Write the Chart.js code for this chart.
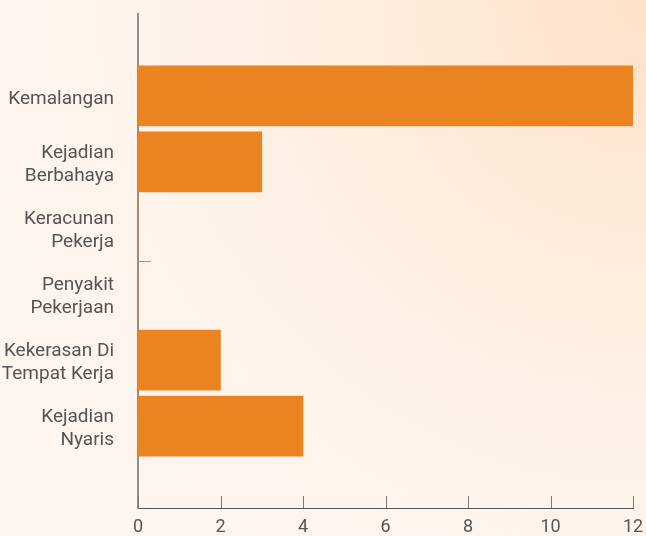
<!DOCTYPE html>
<html>
<head>
<meta charset="utf-8">
<script src="https://cdn.jsdelivr.net/npm/chart.js@4"></script>
<style>
  html, body {
    margin: 0;
    padding: 0;
    width: 646px;
    height: 536px;
    overflow: hidden;
    background: radial-gradient(circle at 100% 0%, #fee1ca 0%, #fdeedf 35%, #fef4ec 65%, #fef6f1 100%);
  }
  #wrap { position: relative; width: 646px; height: 536px; }
</style>
</head>
<body>
<div id="wrap"><canvas id="incidentChart"></canvas></div>
<script>
// Incident categories (multi-line labels) and their counts
const categories = [
  ["Kemalangan"],
  ["Kejadian", "Berbahaya"],
  ["Keracunan", "Pekerja"],
  ["Penyakit", "Pekerjaan"],
  ["Kekerasan Di", "Tempat Kerja"],
  ["Kejadian", "Nyaris"]
];
const counts = [12, 3, 0, 0, 2, 4];
const xTicks = [0, 2, 4, 6, 8, 10, 12];

const textColor = "#555";
const barColor = "#ea8420";

// Bars sit on a linear index axis so the axis can run past the first/last category
const points = counts.map((v, i) => ({ x: v, y: i }));
const yMin = -1.24;
const yMax = categories.length - 1 + 1.24;

// Small upward tick marks on the x axis, plus the short mark on the y axis
const axisMarks = {
  id: "axisMarks",
  afterDraw(chart) {
    const { ctx, scales: { x, y }, chartArea } = chart;
    ctx.save();
    ctx.strokeStyle = "#777";
    ctx.lineWidth = 1;
    xTicks.forEach((t) => {
      const px = Math.round(x.getPixelForValue(t)) + 0.5;
      ctx.beginPath();
      ctx.moveTo(px, chartArea.bottom);
      ctx.lineTo(px, chartArea.bottom - 12);
      ctx.stroke();
    });
    const my = Math.round(y.getPixelForValue((categories.length - 1) / 2)) + 0.5;
    ctx.strokeStyle = "#999";
    ctx.beginPath();
    ctx.moveTo(chartArea.left, my);
    ctx.lineTo(chartArea.left + 13, my);
    ctx.stroke();
    ctx.restore();
  }
};

const ctx = document.getElementById("incidentChart").getContext("2d");
const incidentChart = new Chart(ctx, {
  type: "bar",
  data: {
    datasets: [
      {
        data: points,
        backgroundColor: barColor,
        borderWidth: 0,
        barThickness: 60,
      },
    ],
  },
  plugins: [axisMarks],
  options: {
    indexAxis: "y",
    responsive: true,
    maintainAspectRatio: false,
    animation: false,
    layout: { padding: { top: 14, right: 13, bottom: 0, left: 0 } },
    plugins: {
      legend: { display: false },
      tooltip: { enabled: false },
    },
    scales: {
      x: {
        type: "linear",
        min: 0,
        max: 12,
        afterBuildTicks: (axis) => {
          axis.ticks = xTicks.map((v) => ({ value: v }));
        },
        afterFit: (axis) => {
          axis.height = 28;
          axis.paddingLeft = 0;
          axis.paddingRight = 0;
        },
        grid: { display: false, drawTicks: false },
        border: { display: true, color: "#555", width: 1 },
        ticks: {
          color: textColor,
          padding: 9,
          font: { family: "Roboto", size: 18 },
        },
      },
      y: {
        type: "linear",
        reverse: true,
        offset: false,
        bounds: "data",
        min: yMin,
        max: yMax,
        afterBuildTicks: (axis) => {
          axis.ticks = categories.map((_, i) => ({ value: i }));
        },
        afterFit: (axis) => {
          axis.width = 138;
          axis.paddingTop = 0;
          axis.paddingBottom = 0;
        },
        grid: { display: false, drawTicks: false, offset: false },
        border: { display: true, color: "#8f8f8f", width: 2 },
        ticks: {
          color: textColor,
          padding: 24,
          labelOffset: 3,
          font: { family: "Roboto", size: 19 },
          callback: (value) => categories[value],
        },
      },
    },
  },
});
</script>
</body>
</html>
